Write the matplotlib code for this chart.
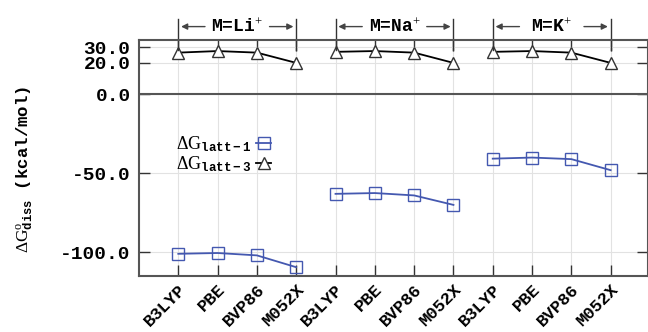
import numpy as np
import matplotlib
matplotlib.use('Agg')
import matplotlib.pyplot as plt

plt.rcParams['mathtext.fontset'] = 'custom'
plt.rcParams['mathtext.rm'] = 'Liberation Serif'
plt.rcParams['mathtext.it'] = 'Liberation Serif'
plt.rcParams['mathtext.tt'] = 'Liberation Mono:bold'

# data
methods = ['B3LYP', 'PBE', 'BVP86', 'M052X']
groups = ['Li', 'Na', 'K']
latt1 = [[-101.0, -100.5, -102.0, -109.5],
         [-63.0, -62.5, -64.0, -70.0],
         [-40.7, -40.0, -41.0, -48.0]]
latt3 = [[26.5, 27.5, 26.5, 20.0],
         [27.0, 27.5, 26.5, 20.0],
         [27.0, 27.5, 26.5, 20.0]]
yticks = [30.0, 20.0, 0.0, -50.0, -100.0]

mono = 'Liberation Mono'
fig = plt.figure(figsize=(6.48, 3.32), dpi=100)
ax = fig.add_axes([0.2145, 0.169, 0.7855, 0.7105])

blue = '#4458b0'
n = len(methods)
for g in range(len(groups)):
    x = np.arange(1, n + 1) + g * n
    l1, = ax.plot(x, latt1[g], color=blue, lw=1.3, marker='s', ms=8,
                  mfc='none', mec=blue, mew=1.0)
    l3, = ax.plot(x, latt3[g], color='black', lw=1.3, marker='^', ms=9,
                  mfc='white', mec='#333333', mew=1.0)

    # group bracket above the axes
    xa, xb = x[0], x[-1]
    xm = (xa + xb) / 2
    for xx in (xa, xb):
        ax.plot([xx, xx], [28, 48], color='#333333', lw=1.0, clip_on=False)
    ax.annotate('', xy=(xa, 43), xytext=(xm - 0.75, 43),
                arrowprops=dict(arrowstyle='-|>', color='#444444', lw=1.0,
                                mutation_scale=9),
                annotation_clip=False)
    ax.annotate('', xy=(xb, 43), xytext=(xm + 0.75, 43),
                arrowprops=dict(arrowstyle='-|>', color='#444444', lw=1.0,
                                mutation_scale=9),
                annotation_clip=False)
    ax.text(xm, 43, 'M=' + groups[g] + r'$^{+}$', ha='center', va='center',
            family=mono, fontsize=13, weight='bold', clip_on=False)

ax.axhline(0, color='#555555', lw=1.5, zorder=1)

ax.set_xlim(0, 12.95)
ax.set_ylim(-115, 34.5)
ax.set_xticks(np.arange(1, 3 * n + 1))
ax.set_xticklabels(methods * 3, rotation=45, ha='right', rotation_mode='anchor',
                   family=mono, fontsize=12.5, weight='bold')
ax.set_yticks(yticks)
ax.set_yticklabels(['%.1f' % v for v in yticks], family=mono, fontsize=14, weight='bold')
ax.tick_params(direction='in', length=8, width=1.0, color='#333333',
               top=True, right=True, pad=6)
ax.tick_params(axis='x', pad=4)
ax.grid(True, color='#e2e2e2', lw=0.8)
ax.set_axisbelow(True)
for s in ax.spines.values():
    s.set_color('#555555')
    s.set_linewidth(1.5)

ax.set_ylabel(r'$\Delta\mathrm{G}^{\mathrm{o}}_{\mathtt{diss}}$ (kcal/mol)',
              family=mono, fontsize=12.5, weight='bold')
ax.yaxis.set_label_coords(-0.205, 0.45)

ax.legend([l1, l3],
          [r'$\Delta\mathrm{G}_{\mathtt{latt-1}}$', r'$\Delta\mathrm{G}_{\mathtt{latt-3}}$'],
          loc='upper left', bbox_to_anchor=(0.04, 0.67), frameon=False,
          markerfirst=False, handlelength=0.8, handletextpad=0.3,
          labelspacing=0.05, prop={'family': mono, 'size': 13})

fig.savefig('out.png', dpi=100)
